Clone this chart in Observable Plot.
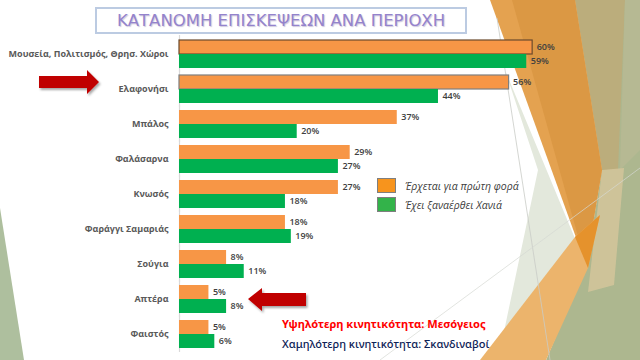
<!DOCTYPE html>
<html>
<head>
<meta charset="utf-8">
<script src="https://cdn.jsdelivr.net/npm/d3@7"></script>
<script src="https://cdn.jsdelivr.net/npm/@observablehq/plot@0.6"></script>
<style>
  html, body { margin: 0; padding: 0; background: #fff; }
  #wrap { position: relative; width: 640px; height: 360px; overflow: hidden; background: #fff; font-family: "Open Sans", sans-serif; }
  #bg, #chart, #deco { position: absolute; left: 0; top: 0; }
  #chart svg { display: block; }
  #title { position: absolute; left: 95px; top: 7px; width: 368px; height: 23px; border: 2px solid #bccbe2; background: #fff;
           color: #9483cc; font-family: "DejaVu Sans", sans-serif; font-size: 16.5px; line-height: 23px; text-align: center;
           text-shadow: 1px 1px 1px rgba(90,70,140,0.3); }
  .leg { position: absolute; left: 377px; display: flex; align-items: center; font-style: italic; font-size: 10.5px; color: #404040; }
  .leg span.sw { display: inline-block; width: 17px; height: 13px; border: 1.5px solid #7f7f7f; margin-right: 9px; }
  .note { position: absolute; left: 282px; white-space: nowrap; font-family: "Noto Sans", sans-serif; }
</style>
</head>
<body>
<div id="wrap">
  <svg id="bg" width="640" height="360">
    <polygon points="0,208 0,360 24,360" fill="#aebf9e"/>
    <polygon points="575,0 640,0 640,360 546,360 586,265 602,170" fill="#adb78f"/>
    <polygon points="575,0 625,0 618,170 602,170" fill="#bbad7c"/>
    <polygon points="625,0 640,0 640,150 620,170" fill="#b6b993"/>
    <polygon points="602,170 624,168 614,285 588,292" fill="#d3c59b" opacity="0.85"/>
    <polygon points="505,70 586,265 546,360 498,360 538,170" fill="#e3e8dc"/>
    <polygon points="490,0 575,0 602,170 586,265" fill="#e4a250"/>
    <polygon points="512,0 575,0 602,170 586,265" fill="#db9844"/>
    <polygon points="480,360 546,360 588,268 600,215 575,237" fill="#ecb46c"/>
    <polygon points="575,237 600,215 588,268" fill="#e5922c"/>
    <line x1="497" y1="18" x2="550" y2="360" stroke="#c9ccc6" stroke-width="0.8"/>
    <line x1="380" y1="360" x2="640" y2="168" stroke="#d6d9d2" stroke-width="0.7"/>
  </svg>
  <div id="chart"></div>
  <svg id="deco" width="640" height="360">
    <defs>
      <filter id="sh" x="-20%" y="-20%" width="150%" height="160%">
        <feDropShadow dx="1.5" dy="2" stdDeviation="1.2" flood-color="#000" flood-opacity="0.35"/>
      </filter>
    </defs>
    <polygon filter="url(#sh)" fill="#c00000" points="39,76 87,76 87,70 99,82 87,94 87,88 39,88"/>
    <polygon filter="url(#sh)" fill="#c00000" points="248,299 262,288 262,293 306,293 306,306 262,306 262,311"/>
  </svg>
  <div id="title">ΚΑΤΑΝΟΜΗ ΕΠΙΣΚΕΨΕΩΝ ΑΝΑ ΠΕΡΙΟΧΗ</div>
  <div id="legend"></div>
  <div class="note" style="top:316px; color:#ff0000; font-weight:700; font-size:11.1px;">Υψηλότερη κινητικότητα: Μεσόγειος</div>
  <div class="note" style="top:336px; color:#0d2256; font-size:11px; font-weight:500;">Χαμηλότερη κινητικότητα: Σκανδιναβοί</div>
</div>
<script>
const categories = ["Μουσεία, Πολιτισμός, Θρησ. Χώροι", "Ελαφονήσι", "Μπάλος", "Φαλάσαρνα", "Κνωσός", "Φαράγγι Σαμαριάς", "Σούγια", "Απτέρα", "Φαιστός"];
const series = ["Έρχεται για πρώτη φορά", "Έχει ξαναέρθει Χανιά"];
const firstTime = [60, 56, 37, 29, 27, 18, 8, 5, 5];
const returning = [59, 44, 20, 27, 18, 19, 11, 8, 6];

const barColors = ["#f79646", "#00b050"];
const legendColors = ["#f7941d", "#33b34a"];

const rows = [];
categories.forEach((c, i) => {
  rows.push({cat: c, series: series[0], value: firstTime[i], idx: i});
  rows.push({cat: c, series: series[1], value: returning[i], idx: i});
});

const outline = d => d.series === series[0] ? (d.idx === 0 ? "#6b4a2c" : d.idx === 1 ? "#7f7f7f" : "none") : "none";

const chart = Plot.plot({
  width: 640,
  height: 360,
  marginLeft: 179,
  marginRight: 49,
  marginTop: 35,
  marginBottom: 8,
  style: {background: "transparent", fontFamily: "Open Sans, sans-serif"},
  x: {domain: [0, 70], axis: null},
  y: {domain: series, axis: null, padding: 0},
  fy: {domain: categories, paddingInner: 0.18, paddingOuter: 0.09, label: null},
  color: {domain: series, range: barColors},
  marks: [
    Plot.ruleX([0], {stroke: "#d9d9d9", strokeWidth: 1.2, insetTop: -4, insetBottom: -4}),
    Plot.barX(rows, {fy: "cat", y: "series", x: "value", fill: "series", stroke: outline, strokeWidth: 1.2}),
    Plot.text(rows, {fy: "cat", y: "series", x: "value", text: d => d.value + "%", textAnchor: "start", dx: 4,
      fill: "#404040", fontSize: 9, fontWeight: 600}),
    Plot.axisFy({anchor: "left", tickSize: 0, tickPadding: 11, fontSize: 9, fontWeight: 700, fill: "#595959", label: null})
  ]
});
document.getElementById("chart").appendChild(chart);

const leg = document.getElementById("legend");
series.forEach((s, i) => {
  const row = document.createElement("div");
  row.className = "leg";
  row.style.top = (178 + i * 19) + "px";
  const sw = document.createElement("span");
  sw.className = "sw";
  sw.style.background = legendColors[i];
  row.appendChild(sw);
  row.appendChild(document.createTextNode(s));
  leg.appendChild(row);
});
</script>
</body>
</html>
